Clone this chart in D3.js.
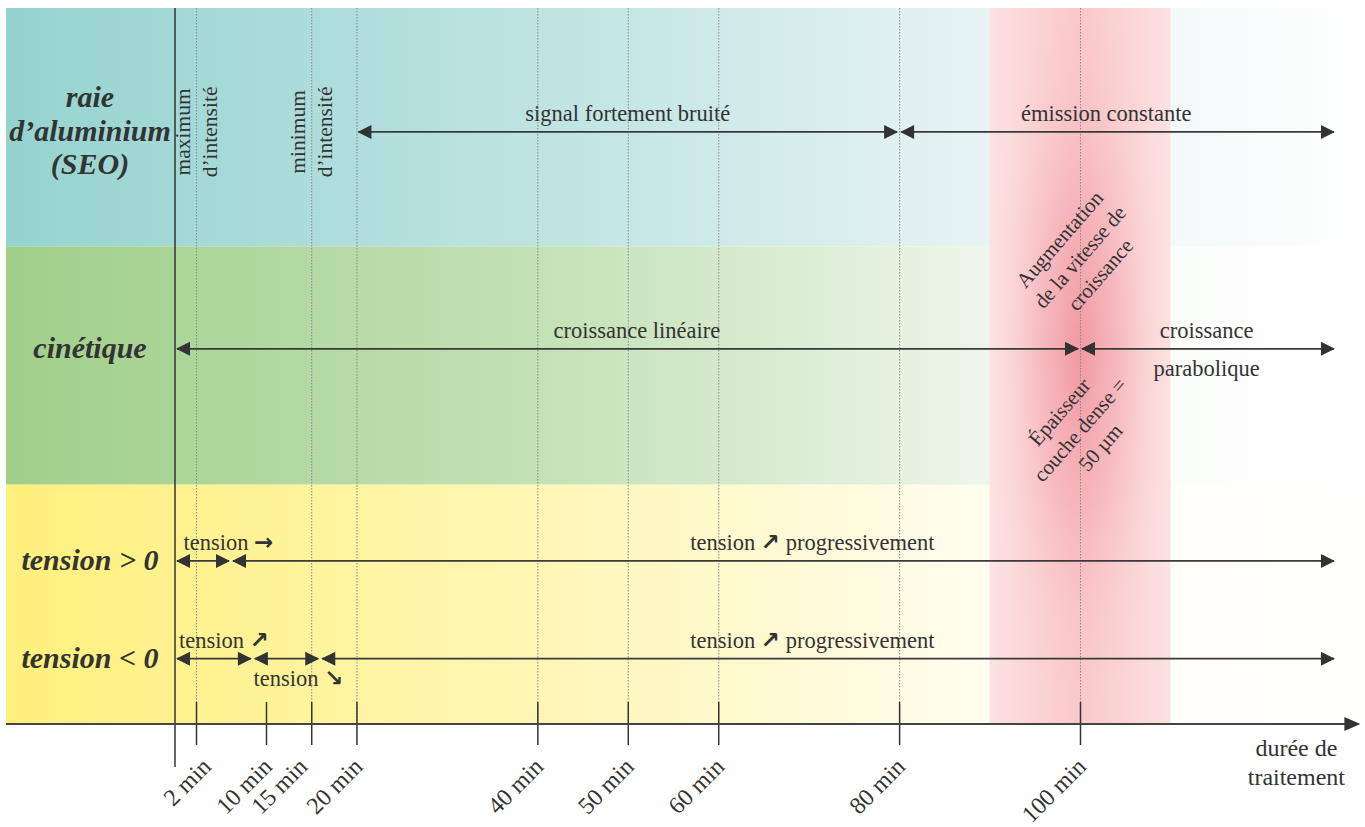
<!DOCTYPE html>
<html>
<head>
<meta charset="utf-8">
<script src="https://cdn.jsdelivr.net/npm/d3@7"></script>
<style>
  body { margin: 0; background: #fff; }
  text { font-family: "Liberation Serif", "Times New Roman", serif; fill: #333; }
  tspan.sym { font-family: "DejaVu Sans", sans-serif; font-weight: bold; }
</style>
</head>
<body>
<div id="chart"></div>
<script>
// time axis (minutes)
const tickTimes = [2, 10, 15, 20, 40, 50, 60, 80, 100];
const markerTimes = [2, 15, 20, 40, 50, 60, 80, 100];
const END = 128.3;      // arrows run until here
const AXIS_END = 131;

// the three horizontal bands
const bands = ["seo", "cinetique", "tension"];

// lanes carrying the arrows (level = position in band units)
const laneNames = ["seo", "cinetique", "tensionPos", "tensionNeg"];
const laneLevels = [0.52, 1.43, 2.32, 2.73];
const laneTitles = [["raie", "d’aluminium", "(SEO)"], ["cinétique"], ["tension > 0"], ["tension < 0"]];

// arrow segments
const segLane  = ["seo", "seo", "cinetique", "cinetique", "tensionPos", "tensionPos", "tensionNeg", "tensionNeg", "tensionNeg"];
const segStart = [20, 80, 0, 100, 0, 6, 0, 8.5, 16];
const segEnd   = [80, END, 100, END, 6, END, 8.5, 16, END];

// labels over / under the arrows
const noteText = ["signal fortement bruité", "émission constante", "croissance linéaire", "croissance", "parabolique",
                  "tension →", "tension ↗ progressivement", "tension ↗", "tension ↘", "tension ↗ progressivement"];
const noteLane = ["seo", "seo", "cinetique", "cinetique", "cinetique", "tensionPos", "tensionPos", "tensionNeg", "tensionNeg", "tensionNeg"];
const noteTime = [50, 102.9, 51, 114, 114, 5.7, 70.4, 5.2, 13.6, 70.4];
const noteSide = ["above", "above", "above", "above", "below", "above", "above", "above", "below", "above"];

// vertical notes on the SEO lane
const peakTimes = [2, 15];
const peakText = [["maximum", "d’intensité"], ["minimum", "d’intensité"]];

// transition zone
const zoneStart = 90, zoneEnd = 110;
const zoneNotes = [["Augmentation", "de la vitesse de", "croissance"], ["Épaisseur", "couche dense =", "50 µm"]];
const zoneLevels = [1.045, 1.77];

const w = 1365, h = 827;

var svg = d3.select("#chart").append("svg")
    .attr("width", w)
    .attr("height", h);

var x = d3.scaleLinear()
    .domain([0, 2, 10, 100])
    .range([175, 196, 266, 1080]);

var y = d3.scaleLinear()
    .domain([0, 3])
    .range([8, 723]);

var laneY = d3.scaleOrdinal().domain(laneNames).range(laneLevels.map(y));

var defs = svg.append("defs");

function linGrad(id, stops, units) {
    var g = defs.append("linearGradient").attr("id", id);
    if (units) {
        g.attr("gradientUnits", "userSpaceOnUse")
            .attr("x1", 6).attr("x2", w).attr("y1", 0).attr("y2", 0);
    }
    stops.forEach(s => g.append("stop").attr("offset", s[0]).attr("stop-color", s[1]));
}
linGrad("g-seo", [[0, "#95d3d0"], [0.4, "#bfe4e2"], [0.73, "#e8f4f3"], [1, "#ffffff"]], true);
linGrad("g-cinetique", [[0, "#a0cf8a"], [0.4, "#c4e2b7"], [0.73, "#eef6eb"], [0.86, "#fbfdfb"], [1, "#ffffff"]], true);
linGrad("g-tension", [[0, "#fff07c"], [0.4, "#fff6b6"], [0.73, "#fffdf0"], [1, "#fffffe"]], true);
linGrad("g-zone", [[0, "#fde1e1"], [0.25, "#fbd4d5"], [0.5, "#f9c8ca"], [0.75, "#fbd4d5"], [1, "#fde1e1"]], false);

var rg = defs.append("radialGradient").attr("id", "g-core")
    .attr("cx", 0.5).attr("cy", 0.48).attr("r", 0.5);
[[0, "#ef8c97", 0.8], [0.45, "#f2a0a8", 0.45], [0.8, "#f6b6bb", 0.1], [1, "#f8c0c4", 0]]
    .forEach(s => rg.append("stop").attr("offset", s[0]).attr("stop-color", s[1]).attr("stop-opacity", s[2]));

// bands
svg.append("g").selectAll("rect")
    .data(bands)
    .join("rect")
    .attr("x", 6)
    .attr("y", (d, i) => y(i))
    .attr("width", w - 6)
    .attr("height", (d, i) => y(i + 1) - y(i))
    .attr("fill", d => "url(#g-" + d + ")");

// pink zone
svg.append("g").selectAll("rect")
    .data(["g-zone", "g-core"])
    .join("rect")
    .attr("x", x(zoneStart))
    .attr("y", y(0))
    .attr("width", x(zoneEnd) - x(zoneStart))
    .attr("height", y(3) - y(0))
    .attr("fill", d => "url(#" + d + ")");

// dotted marker lines
svg.append("g").selectAll("line")
    .data(markerTimes)
    .join("line")
    .attr("x1", d => x(d) + 0.5).attr("x2", d => x(d) + 0.5)
    .attr("y1", y(0)).attr("y2", y(3))
    .attr("stroke", "#8a8a8a")
    .attr("stroke-width", 1)
    .attr("stroke-dasharray", "1.5,1.5");

// start line
svg.append("line")
    .attr("x1", x(0)).attr("x2", x(0))
    .attr("y1", y(0)).attr("y2", y(3) + 44)
    .attr("stroke", "#333")
    .attr("stroke-width", 1.5);

// axis
var axis = svg.append("g")
    .attr("transform", "translate(0," + y(3) + ")")
    .call(d3.axisBottom(x).tickValues(tickTimes).tickFormat(d => d + " min").tickSize(22));
axis.select(".domain").remove();
axis.selectAll(".tick line")
    .attr("y1", -21)
    .attr("stroke", "#333")
    .attr("stroke-width", 1.5);
axis.selectAll(".tick text")
    .attr("y", 0).attr("dy", 0)
    .attr("text-anchor", "end")
    .attr("font-size", 24)
    .attr("fill", "#333")
    .attr("transform", d => "translate(" + (d === 2 ? 16 : d === 15 ? -3 : 7) + ",45) rotate(-45)");

svg.append("line")
    .attr("x1", 6).attr("x2", x(AXIS_END) - 10)
    .attr("y1", y(3) + 1).attr("y2", y(3) + 1)
    .attr("stroke", "#444")
    .attr("stroke-width", 2);
svg.append("path")
    .attr("d", d3.line()([[x(AXIS_END), y(3) + 1], [x(AXIS_END) - 16, y(3) - 6], [x(AXIS_END) - 16, y(3) + 8]]) + "Z")
    .attr("fill", "#333");

svg.append("text")
    .attr("text-anchor", "middle")
    .attr("font-size", 24)
    .selectAll("tspan")
    .data(["durée de", "traitement"])
    .join("tspan")
    .attr("x", x(AXIS_END) - 64)
    .attr("y", (d, i) => y(3) + 33 + i * 29)
    .text(d => d);

// arrows
var segs = segLane.map((lane, i) => ({ lane: lane, t0: segStart[i], t1: segEnd[i] }));
var HL = 14, HW = 7;

var arrows = svg.append("g").selectAll("g")
    .data(segs)
    .join("g");

arrows.append("line")
    .attr("x1", d => x(d.t0) + 2).attr("x2", d => x(d.t1) - 2)
    .attr("y1", d => laneY(d.lane)).attr("y2", d => laneY(d.lane))
    .attr("stroke", "#3a3a3a")
    .attr("stroke-width", 1.8);

arrows.append("path")
    .attr("fill", "#333")
    .attr("d", d => {
        var yy = laneY(d.lane), a = x(d.t0) + 1, b = x(d.t1) - 1;
        return "M" + a + "," + yy + "L" + (a + HL) + "," + (yy - HW) + "L" + (a + HL) + "," + (yy + HW) + "Z" +
               "M" + b + "," + yy + "L" + (b - HL) + "," + (yy - HW) + "L" + (b - HL) + "," + (yy + HW) + "Z";
    });

// arrow labels (arrow symbols drawn in a font that has them)
svg.append("g").selectAll("text")
    .data(noteText)
    .join("text")
    .attr("x", (d, i) => x(noteTime[i]))
    .attr("y", (d, i) => laneY(noteLane[i]) + (noteSide[i] === "above" ? -11 : 27))
    .attr("text-anchor", "middle")
    .attr("font-size", 22.5)
    .each(function(d) {
        var t = d3.select(this);
        d.split(/([→↗↘])/).forEach(part => {
            if (!part) return;
            t.append("tspan")
                .attr("class", /[→↗↘]/.test(part) ? "sym" : null)
                .attr("font-size", /[→↗↘]/.test(part) ? 23 : null)
                .text(part);
        });
    });

// lane titles
svg.append("g").selectAll("text")
    .data(laneTitles)
    .join("text")
    .attr("font-size", 30)
    .attr("font-weight", "bold")
    .attr("font-style", "italic")
    .attr("text-anchor", "middle")
    .each(function(lines, i) {
        var cy = laneY(laneNames[i]);
        var t = d3.select(this);
        lines.forEach((l, k) => {
            t.append("tspan")
                .attr("x", 90)
                .attr("y", cy + 9 + (k - (lines.length - 1) / 2) * 33.5)
                .text(l);
        });
    });

// vertical peak notes
peakTimes.forEach((t, i) => {
    peakText[i].forEach((l, k) => {
        svg.append("text")
            .attr("transform", "translate(" + (x(t) + (k === 0 ? -6 : 21)) + "," + laneY("seo") + ") rotate(-90)")
            .attr("text-anchor", "middle")
            .attr("font-size", 21.5)
            .text(l);
    });
});

// rotated notes in the pink zone
zoneNotes.forEach((lines, i) => {
    var g = svg.append("g")
        .attr("transform", "translate(" + x((zoneStart + zoneEnd) / 2) + "," + y(zoneLevels[i]) + ") rotate(-49)");
    lines.forEach((l, k) => {
        g.append("text")
            .attr("x", 0)
            .attr("y", (k - 1) * 27 + 7)
            .attr("text-anchor", "middle")
            .attr("font-size", 21)
            .text(l);
    });
});
</script>
</body>
</html>
